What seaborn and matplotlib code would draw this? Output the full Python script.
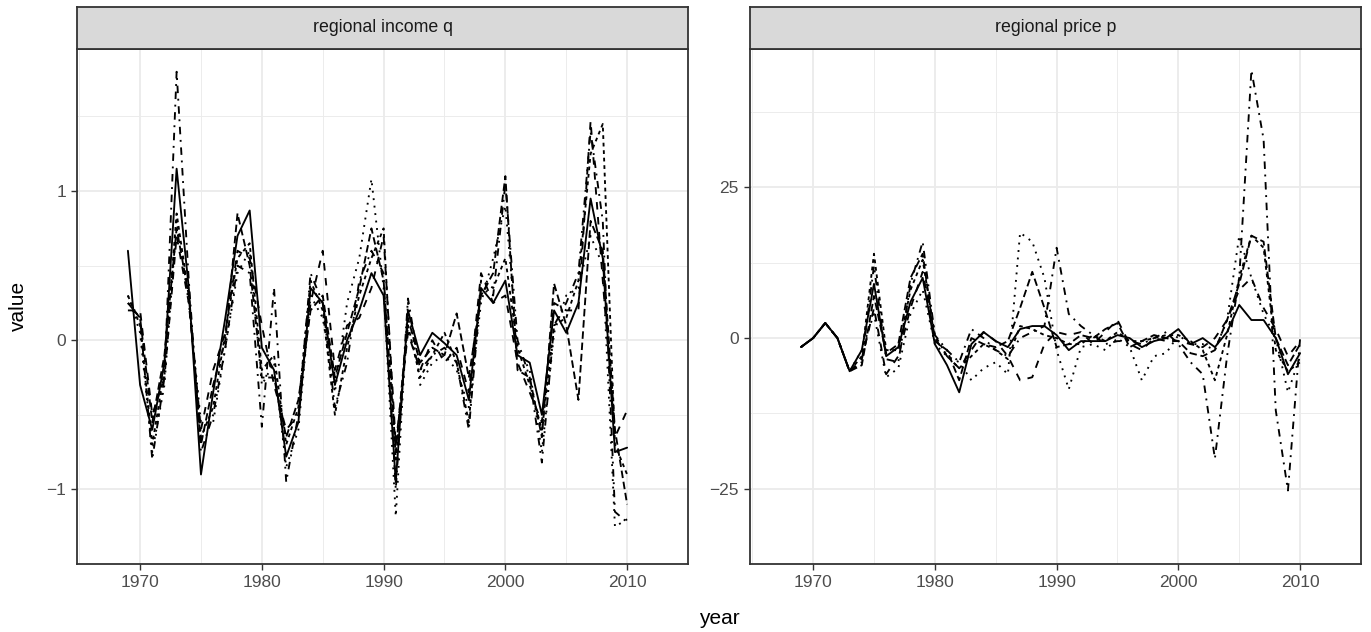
import numpy as np
import pandas as pd
import matplotlib
matplotlib.use("Agg")
import matplotlib.pyplot as plt
import seaborn as sns

years = list(range(1969, 2011))
regions = ["R1", "R2", "R3", "R4", "R5", "R6"]

income_R1 = [0.60,-0.30,-0.60,-0.15,1.15, 0.35,-0.90,-0.35,0.15,0.70, 0.87,-0.05,-0.20,-0.78,-0.55,
             0.35,0.25,-0.30,0.00,0.20, 0.45,0.30,-0.95,0.20,-0.10, 0.05,-0.02,-0.10,-0.40,0.35,
             0.25,0.40,-0.10,-0.15,-0.50, 0.20,0.05,0.25,0.95,0.55, -0.75,-0.72]
income_R2 = [0.30,0.10,-0.70,-0.20,0.85, 0.30,-0.65,-0.45,0.05,0.55, 0.65,-0.20,-0.10,-0.70,-0.45,
             0.40,0.20,-0.50,-0.05,0.30, 0.55,0.75,-0.80,0.10,-0.25, -0.10,0.05,-0.15,-0.55,0.40,
             0.35,0.55,-0.05,-0.30,-0.60, 0.10,0.15,0.40,1.25,1.45, -0.70,-0.90]
income_R3 = [0.25,0.15,-0.55,-0.10,0.75, 0.30,-0.70,-0.30,0.00,0.85, 0.50,-0.25,-0.25,-0.65,-0.40,
             0.20,0.30,-0.25,0.05,0.35, 0.75,0.40,-0.75,0.15,-0.15, -0.05,-0.10,0.18,-0.25,0.30,
             0.45,1.10,-0.20,-0.25,-0.65, 0.38,0.10,-0.40,0.80,0.60, -0.60,-1.10]
income_R4 = [0.20,0.20,-0.50,-0.25,0.70, 0.25,-0.60,-0.20,0.05,0.60, 0.55,0.10,-0.30,-0.60,-0.50,
             0.25,0.60,-0.20,0.10,0.15, 0.35,0.70,-0.70,0.05,-0.20, 0.00,-0.15,-0.05,-0.35,0.45,
             0.25,0.30,-0.15,-0.35,-0.55, 0.25,0.20,0.20,1.47,0.40, -0.65,-0.47]
income_R5 = [0.30,0.05,-0.75,-0.30,0.80, 0.25,-0.55,-0.55,-0.05,0.45, 0.60,-0.30,-0.15,-0.85,-0.60,
             0.30,0.15,-0.35,0.25,0.55, 1.08,0.35,-1.18,0.25,-0.30, -0.15,-0.10,-0.20,-0.45,0.25,
             0.55,0.90,-0.05,-0.20,-0.75, 0.05,0.30,0.35,0.70,0.50, -1.25,-1.20]
income_R6 = [0.25,0.15,-0.80,-0.25,1.80, 0.40,-0.75,-0.50,-0.05,0.50, 0.45,-0.58,0.35,-0.95,-0.50,
             0.45,0.25,-0.45,-0.15,0.40, 0.60,0.45,-1.00,0.28,-0.20, -0.10,-0.05,-0.15,-0.60,0.35,
             0.30,1.05,0.00,-0.25,-0.82, 0.10,0.25,0.45,1.40,0.80, -1.15,-1.22]

price_R1 = [-1.5,0.0,2.5,0.0,-5.5, -2.0,9.0,-3.0,-1.5,6.0, 10.0,-1.0,-4.5,-9.0,-1.0,
            1.0,-0.5,-1.5,1.5,2.0, 2.0,0.5,-2.0,-0.5,-0.5, -0.5,0.5,0.0,-1.5,-0.5,
            0.0,1.5,-1.0,0.0,-1.5, 1.0,5.5,3.0,3.0,0.0, -6.0,-2.5]
price_R2 = [-1.5,0.0,2.5,0.0,-5.5, -3.0,14.0,-2.0,-2.0,8.0, 13.0,0.5,-3.0,-5.0,-3.0,
            -1.0,-2.0,-3.5,2.0,1.5, 0.5,0.0,-1.0,-1.0,0.5, -0.5,1.0,-0.5,-0.5,0.0,
            0.5,0.5,-0.5,-2.0,-7.0, 0.5,10.0,17.0,15.0,-2.0, -5.5,-4.0]
price_R3 = [-1.5,0.0,2.5,0.0,-5.5, -4.5,7.0,-2.5,-1.0,10.0, 14.0,-0.5,-2.0,-7.0,0.0,
            -1.0,-1.5,-0.5,5.0,11.0, 5.0,-1.5,-1.0,0.5,0.0, 1.5,2.5,-1.5,-0.5,0.5,
            0.0,-0.5,-2.5,-3.0,-2.0, 3.0,9.0,17.0,16.0,0.0, -4.5,-1.0]
price_R4 = [-1.5,0.0,2.5,0.0,-5.5, -3.5,5.0,-6.0,-3.0,5.0, 11.0,0.0,-3.0,-5.0,-2.0,
            1.0,-0.5,-3.0,-7.0,-6.5, -1.0,1.0,0.5,1.0,-1.0, 1.0,3.0,-1.0,-2.0,0.0,
            -0.5,-0.5,-1.0,-1.5,0.0, 3.0,8.0,10.0,5.0,1.5, -3.0,-0.5]
price_R5 = [-1.5,0.0,2.5,0.0,-5.5, -2.0,4.0,-6.5,-5.0,4.0, 8.0,-1.0,-3.0,-4.0,-7.0,
            -5.0,-4.0,-6.0,17.5,16.0, 10.0,-2.0,-8.5,-1.5,-1.0, -2.0,0.0,-1.5,-7.0,-3.0,
            -2.5,0.5,-1.0,-1.0,-2.0, 3.0,17.0,10.0,4.0,0.0, -9.0,-3.0]
price_R6 = [-1.5,0.0,2.5,0.0,-5.5, -4.0,12.0,-3.5,-4.0,9.0, 16.0,0.5,-2.0,-4.0,1.5,
            0.0,-2.0,-3.0,0.0,1.0, 2.0,15.0,4.0,2.0,0.5, -1.0,-0.5,-0.5,-1.0,0.0,
            1.0,-1.0,-4.0,-6.0,-20.0, -3.0,10.0,44.5,33.0,-12.0, -25.3,0.0]

panel_titles = ["regional income q", "regional price p"]
x_ticks = [1970, 1980, 1990, 2000, 2010]
income_ticks = [-1, 0, 1]
price_ticks = [-25, 0, 25]

income = [income_R1, income_R2, income_R3, income_R4, income_R5, income_R6]
price = [price_R1, price_R2, price_R3, price_R4, price_R5, price_R6]
for s in income + price:
    assert len(s) == len(years), len(s)

def long_df(series):
    rows = []
    for reg, vals in zip(regions, series):
        for y, v in zip(years, vals):
            rows.append((y, reg, v))
    return pd.DataFrame(rows, columns=["year", "region", "value"])

df_q = long_df(income)
df_p = long_df(price)

sns.set_theme(style="white")
plt.rcParams['font.family'] = ['Liberation Sans', 'DejaVu Sans']

dash_map = {"R1": "", "R2": (2, 2), "R3": (4, 2), "R4": (4, 4), "R5": (1, 3), "R6": (1, 3, 4, 3)}

W, H = 1371, 632
fig = plt.figure(figsize=(W / 100, H / 100), dpi=100)

panel_top, panel_bot = 49, 564
strip_top = 7
panels = [(77, 688), (750, 1361)]
tick_sets = [income_ticks, price_ticks]
dfs = [df_q, df_p]

for (x0, x1), df, title, yt in zip(panels, dfs, panel_titles, tick_sets):
    ax = fig.add_axes([x0 / W, 1 - panel_bot / H, (x1 - x0) / W, (panel_bot - panel_top) / H])
    sns.lineplot(data=df, x="year", y="value", style="region", dashes=dash_map,
                 color="black", linewidth=1.35, legend=False, ax=ax, estimator=None)
    vmin, vmax = df["value"].min(), df["value"].max()
    r = vmax - vmin
    ax.set_ylim(vmin - 0.05 * r, vmax + 0.05 * r)
    xr = years[-1] - years[0]
    ax.set_xlim(years[0] - 0.102 * xr, years[-1] + 0.102 * xr)
    ax.set_xticks(x_ticks)
    ax.set_xticks([t + 5 for t in [1960] + x_ticks], minor=True)
    ax.set_yticks(yt)
    step = yt[1] - yt[0]
    ax.set_yticks([t - step / 2 for t in yt] + [yt[-1] + step / 2], minor=True)
    ax.grid(True, which="major", color="#EBEBEB", linewidth=1.3)
    ax.grid(True, which="minor", color="#EBEBEB", linewidth=0.65)
    ax.set_axisbelow(True)
    for s in ax.spines.values():
        s.set_color("#333333")
        s.set_linewidth(1.3)
    ax.tick_params(axis="both", which="major", length=4, width=1.0, color="#333333",
                   labelsize=12.5, labelcolor="#4D4D4D", pad=4, bottom=True, left=True)
    ax.tick_params(axis="both", which="minor", length=0)
    ax.set_xlabel("")
    ax.set_ylabel("")
    # strip
    sax = fig.add_axes([x0 / W, 1 - panel_top / H, (x1 - x0) / W, (panel_top - strip_top) / H])
    sax.set_facecolor("#D9D9D9")
    sax.set_xticks([])
    sax.set_yticks([])
    for s in sax.spines.values():
        s.set_color("#333333")
        s.set_linewidth(1.3)
    sax.text(0.5, 0.5, title, ha="center", va="center", fontsize=12.8, color="#1A1A1A",
             transform=sax.transAxes)

fig.text(719 / W, 1 - 619 / H, "year", ha="center", va="center", fontsize=15, color="black")
fig.text(18 / W, 1 - 306 / H, "value", ha="center", va="center", rotation=90, fontsize=15, color="black")

fig.savefig("out.png", dpi=100)
